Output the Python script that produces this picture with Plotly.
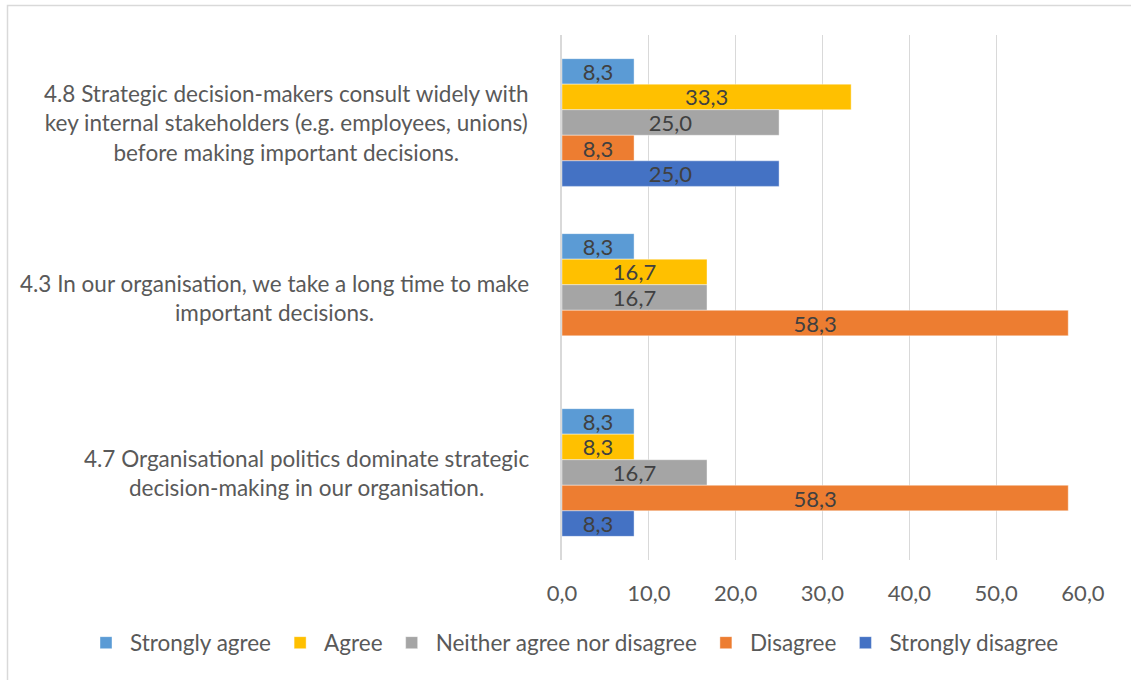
import plotly.graph_objects as go

# Survey statements, listed top to bottom
statements = [
    "4.8 Strategic decision-makers consult widely with<br>key internal stakeholders (e.g. employees, unions)<br>before making important decisions.",
    "4.3 In our organisation, we take a long time to make<br>important decisions.",
    "4.7 Organisational politics dominate strategic<br>decision-making in our organisation.",
]

responses = ["Strongly agree", "Agree", "Neither agree nor disagree", "Disagree", "Strongly disagree"]

# Percentage of respondents per statement (same order as statements)
strongly_agree = [8.3, 8.3, 8.3]
agree = [33.3, 16.7, 8.3]
neither = [25.0, 16.7, 16.7]
disagree = [8.3, 58.3, 58.3]
strongly_disagree = [25.0, None, 8.3]

x_ticks = [0, 10, 20, 30, 40, 50, 60]

series = [strongly_agree, agree, neither, disagree, strongly_disagree]
colors = ["#5B9BD5", "#FFC000", "#A5A5A5", "#ED7D31", "#4472C4"]

FONT = "Lato"
W, H = 1131, 680
L, R, T, B = 562, 48, 35, 120
pw, ph = W - L - R, H - T - B


def px_to_paper_x(px):
    return (px - L) / pw


def px_to_paper_y(py):
    return (H - B - py) / ph


fig = go.Figure()
for name, vals, col in zip(responses, series, colors):
    fig.add_trace(go.Bar(
        name=name,
        y=statements,
        x=vals,
        orientation="h",
        marker=dict(color=col, line=dict(color="rgba(255,255,255,0.5)", width=0.8)),
        texttemplate="%{x:.1f}",
        textposition="inside",
        insidetextanchor="middle",
        constraintext="none",
        textfont=dict(family=FONT, size=22, color="#404040"),
        hoverinfo="skip",
    ))

# Statement labels, each block centred line by line
for s in statements:
    fig.add_annotation(
        x=px_to_paper_x(531), xref="paper", xanchor="right",
        y=s, yref="y", yanchor="middle",
        text=s, showarrow=False, align="center",
        font=dict(family=FONT, size=22.5, color="#595959"),
    )

# Outer chart frame
fig.add_shape(
    type="rect", xref="paper", yref="paper",
    x0=px_to_paper_x(7.5), x1=px_to_paper_x(1140),
    y0=px_to_paper_y(690), y1=px_to_paper_y(5.5),
    line=dict(color="#d9d9d9", width=1.5), layer="below",
)

fig.update_layout(
    width=W, height=H,
    margin=dict(l=L, r=R, t=T, b=B, autoexpand=False),
    paper_bgcolor="white", plot_bgcolor="white",
    barmode="group", bargap=0.27, bargroupgap=0,
    separators=", ",
    font=dict(family=FONT, size=22, color="#595959"),
    showlegend=True,
    legend=dict(
        orientation="h", xref="paper", yref="paper",
        x=px_to_paper_x(82), xanchor="left",
        y=px_to_paper_y(643), yanchor="middle",
        itemwidth=38,
        font=dict(family=FONT, size=22.5, color="#595959"),
        itemclick=False, itemdoubleclick=False,
    ),
    xaxis=dict(
        range=[0, 60], tickvals=x_ticks, tickformat=".1f",
        showgrid=True, gridcolor="#d9d9d9", gridwidth=1,
        zeroline=False, showline=False, ticks="",
        ticklabelstandoff=18,
        tickfont=dict(family=FONT, size=22, color="#595959"),
    ),
    yaxis=dict(
        categoryorder="array", categoryarray=statements,
        autorange="reversed", showticklabels=False,
        showline=True, linecolor="#d9d9d9", linewidth=1.5,
        showgrid=False, ticks="",
    ),
)

fig.write_html("out.html")
